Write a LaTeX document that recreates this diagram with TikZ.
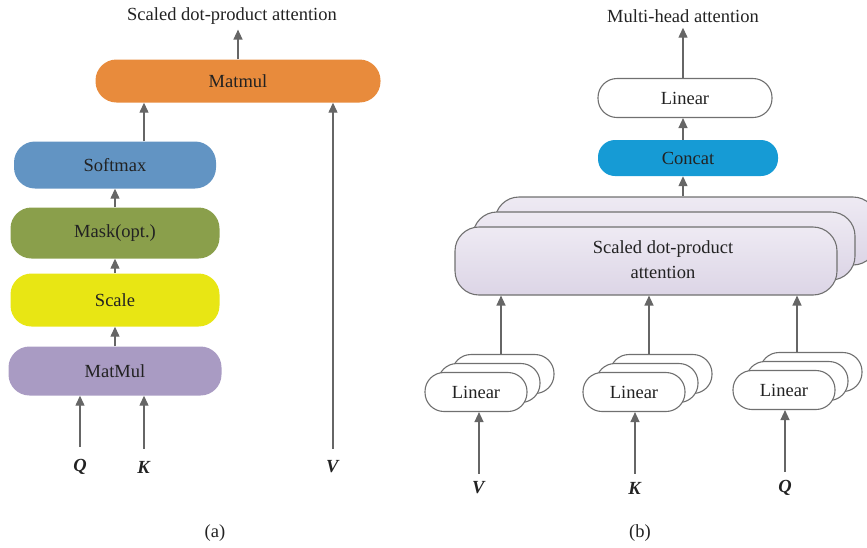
\documentclass[tikz,border=0pt]{standalone}
\usepackage{fontspec}
\setmainfont{Liberation Serif}
\usetikzlibrary{positioning,arrows.meta}
\definecolor{txtgray}{HTML}{222222}
\definecolor{arrgray}{HTML}{666666}
\definecolor{edgegray}{HTML}{707070}
\definecolor{mmorange}{HTML}{E88B3C}
\definecolor{smblue}{HTML}{6294C3}
\definecolor{mkgreen}{HTML}{8A9F4B}
\definecolor{scyellow}{HTML}{E8E614}
\definecolor{mmlilac}{HTML}{A99BC3}
\definecolor{ccblue}{HTML}{169BD5}
\definecolor{sdtop}{HTML}{EEEAF3}
\definecolor{sdbot}{HTML}{DCD5E6}
\def\bfit#1{\textbf{\textit{#1}}}

\begin{document}
\begin{tikzpicture}[>={Triangle[width=9pt,length=10pt]},
	txt/.style={text=txtgray, font=\fontsize{18.5}{25}\selectfont, inner sep=0pt},
	block/.style={txt, rectangle, rounded corners=21pt, minimum height=44pt},
	head/.style={block, draw=edgegray, line width=1.1pt, fill=white},
	linbox/.style={head, minimum width=102pt, minimum height=39pt, rounded corners=19pt},
	sdpa/.style={head, minimum width=382pt, minimum height=68pt, rounded corners=24pt, top color=sdtop, bottom color=sdbot},
	flow/.style={->, draw=arrgray, line width=1.3pt}]
	\useasboundingbox (0pt, 0pt) rectangle (867pt, -547pt);

	% (a) scaled dot-product attention
	\draw (232.0pt, -16.0pt)node[txt](titleA){Scaled dot-product attention};
	\draw (238.0pt, -81.0pt)node[block, fill=mmorange, minimum width=285pt, minimum height=43pt](matmulB){Matmul};
	\draw (115.0pt, -165.0pt)node[block, fill=smblue, minimum width=202pt, minimum height=47pt](softmax){Softmax};
	\draw (115.0pt, -233.0pt)node[block, fill=mkgreen, minimum width=209pt, minimum height=51pt](mask){Mask(opt.)};
	\draw (115.0pt, -300.0pt)node[block, fill=scyellow, minimum width=209pt, minimum height=53pt](scale){Scale};
	\draw (115.0pt, -371.0pt)node[block, fill=mmlilac, minimum width=213pt, minimum height=49pt](matmulA){MatMul};
	\draw (80.0pt, -467.0pt)node[txt](qA){\bfit{Q}};
	\draw (144.0pt, -467.0pt)node[txt](kA){\bfit{K}};
	\draw (333.0pt, -467.0pt)node[txt](vA){\bfit{V}};
	\draw (215.0pt, -533.0pt)node[txt](capA){(a)};

	\draw[flow, shorten <=12pt] (qA) -- (qA |- matmulA.south);
	\draw[flow, shorten <=12pt] (kA) -- (kA |- matmulA.south);
	\draw[flow, shorten <=12pt] (vA) -- (vA |- matmulB.south);
	\draw[flow] (matmulA) -- (scale);
	\draw[flow] (scale) -- (mask);
	\draw[flow] (mask) -- (softmax);
	\draw[flow] ([xshift=29pt]softmax.north) -- ([xshift=29pt]softmax.north |- matmulB.south);
	\draw[flow, shorten >=5pt] (matmulB.north) -- (matmulB.north |- titleA.south);

	% (b) multi-head attention
	\draw (683.0pt, -16.0pt)node[txt](titleB){Multi-head attention};
	\draw (685.0pt, -98.0pt)node[head, minimum width=174pt, minimum height=39pt, rounded corners=19pt](linOut){Linear};
	\draw (688.0pt, -158.0pt)node[block, fill=ccblue, minimum width=180pt, minimum height=36pt, rounded corners=17pt](concat){Concat};
	\draw (686.0pt, -231.0pt)node[sdpa](sdpa3){};
	\draw (664.0pt, -246.0pt)node[sdpa](sdpa2){};
	\draw (646.0pt, -261.0pt)node[sdpa](sdpa1){};
	\draw (663.0pt, -260.0pt)node[txt, align=center](sdpaText){Scaled dot-product\\attention};

	% one stack of linear heads per input
	\foreach \nm/\cx/\cy/\ax in {v/476/-392/501, k/634/-392/649, q/784/-390/797}{
		\draw ({\cx pt+27pt}, {\cy pt+18pt})node[linbox](l\nm3){};
		\draw ({\cx pt+13pt}, {\cy pt+9pt})node[linbox](l\nm2){};
		\draw (\cx pt, \cy pt)node[linbox](l\nm1){Linear};
		\coordinate (in\nm) at (\ax pt, -295pt);
		\draw[flow] (in\nm |- l\nm3.north) -- (in\nm |- sdpa1.south);
	}
	\draw (479.0pt, -488.0pt)node[txt](vB){\bfit{V}};
	\draw (635.0pt, -488.0pt)node[txt](kB){\bfit{K}};
	\draw (785.0pt, -488.0pt)node[txt](qB){\bfit{Q}};
	\draw (640.0pt, -533.0pt)node[txt](capB){(b)};

	\draw[flow, shorten <=8pt] (vB) -- (vB |- lv1.south);
	\draw[flow, shorten <=8pt] (kB) -- (kB |- lk1.south);
	\draw[flow, shorten <=8pt] (qB) -- (qB |- lq1.south);
	\draw[flow] (sdpa3.north -| titleB) -- (concat.south -| titleB);
	\draw[flow] (concat.north -| titleB) -- (linOut.south -| titleB);
	\draw[flow, shorten >=5pt] (linOut.north -| titleB) -- (titleB.south);
\end{tikzpicture}
\end{document}
